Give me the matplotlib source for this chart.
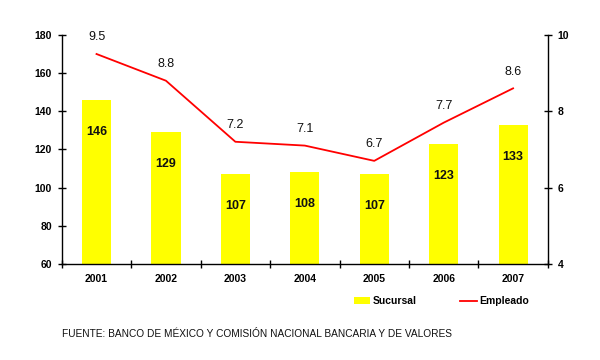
import matplotlib
matplotlib.use("Agg")
import matplotlib.pyplot as plt
import numpy as np

plt.rcParams['font.family'] = ['Liberation Sans', 'DejaVu Sans']

# datos
years = ['2001', '2002', '2003', '2004', '2005', '2006', '2007']
sucursal = [146, 129, 107, 108, 107, 123, 133]
empleado = [9.5, 8.8, 7.2, 7.1, 6.7, 7.7, 8.6]

fig = plt.figure(figsize=(6, 3.6), dpi=100)
ax = fig.add_axes([0.103, 0.267, 0.81, 0.636])
ax2 = ax.twinx()

x = np.arange(len(years))
bars = ax.bar(x, sucursal, width=0.42, color='#FFFF00', label='Sucursal', zorder=2)
line, = ax2.plot(x, empleado, color='#FF0000', lw=1.3, label='Empleado', zorder=3)

ax.set_xlim(-0.5, len(years) - 0.5)
ax.set_ylim(60, 180)
ax.set_yticks(range(60, 181, 20))
ax2.set_ylim(4, 10)
ax2.set_yticks([4, 6, 8, 10])

# etiquetas de barras
for xi, v in zip(x, sucursal):
    ax.annotate(str(v), (xi, v), xytext=(0, -23), textcoords='offset points',
                ha='center', va='center', fontsize=9, fontweight='bold', color='#111111')
# etiquetas de la linea
for xi, v in zip(x, empleado):
    ax2.annotate(f'{v:.1f}', (xi, v), xytext=(0, 12), textcoords='offset points',
                 ha='center', va='center', fontsize=9, color='#111111')

# ejes
ax.set_xticks(x)
ax.set_xticklabels(years)
ax.set_xticks(np.arange(-0.5, len(years), 1), minor=True)
ax.tick_params(axis='x', which='major', length=0, pad=7, labelsize=7.5)
ax.tick_params(axis='x', which='minor', length=6, direction='inout', width=1)
ax.tick_params(axis='y', length=6, direction='inout', width=1, labelsize=7.5, pad=4)
ax2.tick_params(axis='y', length=6, direction='inout', width=1, labelsize=7.5, pad=4)
for lbl in ax.get_xticklabels() + ax.get_yticklabels() + ax2.get_yticklabels():
    lbl.set_fontweight('bold')

for a in (ax, ax2):
    a.spines['top'].set_visible(False)
ax.spines['right'].set_visible(False)
ax2.spines['left'].set_visible(False)
ax2.spines['bottom'].set_visible(False)
for s in ('left', 'bottom'):
    ax.spines[s].set_linewidth(1)
ax2.spines['right'].set_linewidth(1)

leg = fig.legend([bars, line], ['Sucursal', 'Empleado'], loc='center',
                 bbox_to_anchor=(0.735, 0.163), ncol=2, frameon=False,
                 handlelength=1.6, handleheight=0.7,
                 columnspacing=4.2, handletextpad=0.2, prop={'weight': 'bold', 'size': 7.5})

fig.text(0.103, 0.072, 'FUENTE: BANCO DE MÉXICO Y COMISIÓN NACIONAL BANCARIA Y DE VALORES',
         fontsize=7.3, ha='left', va='center', color='#111111')

fig.savefig('out.png', dpi=100)
